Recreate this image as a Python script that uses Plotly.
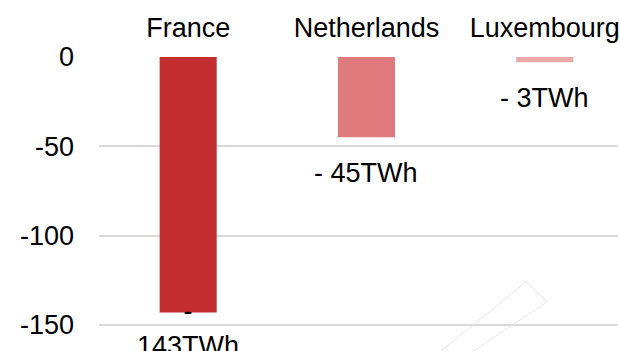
import plotly.graph_objects as go

# Net electricity import balance by neighbouring country
countries = ["France", "Netherlands", "Luxembourg"]
balance_twh = [-143, -45, -3]
bar_colors = ["#C32D30", "#E07B7D", "#ECA7A9"]
label_wrapped = [True, False, False]

y_tickvals = [0, -50, -100, -150]
y_ticktext = ["0", "-50", "-100", "-150"]

FONT = "Liberation Sans, Arial, sans-serif"
FS = 27

labels = []
for v, wrap in zip(balance_twh, label_wrapped):
    txt = f"- {abs(v):g}TWh"
    labels.append(txt.replace(" ", "<br>") if wrap else txt)

fig = go.Figure(
    go.Bar(
        x=countries,
        y=balance_twh,
        marker=dict(color=bar_colors, line=dict(width=0)),
        width=0.32,
        hoverinfo="skip",
    )
)

# value labels sit beneath the end of each bar
for c, v, txt, wrap in zip(countries, balance_twh, labels, label_wrapped):
    fig.add_annotation(
        x=c, y=v, text=txt, showarrow=False,
        xanchor="center", yanchor="middle",
        yshift=-16 if wrap else -36,
        font=dict(family=FONT, size=FS, color="#000000"),
    )

# faint rotated outline in the lower right corner
fig.add_shape(
    type="path", xref="paper", yref="paper",
    path="M 0.6238 -0.05 L 0.8234 0.2345 L 0.8637 0.1667 L 0.6795 -0.05",
    line=dict(color="#E6E6E6", width=1),
    fillcolor="rgba(0,0,0,0)",
)

fig.update_layout(
    width=620, height=351,
    margin=dict(l=99, r=0, t=56, b=0),
    paper_bgcolor="white", plot_bgcolor="white",
    showlegend=False,
    font=dict(family=FONT, size=FS, color="#000000"),
    xaxis=dict(
        side="top", range=[-0.5, 2.4106],
        showgrid=False, showline=False, zeroline=False,
        ticks="", ticklabelstandoff=13,
        tickfont=dict(family=FONT, size=FS, color="#000000"),
    ),
    yaxis=dict(
        range=[-164.6, 0.5],
        tickvals=y_tickvals, ticktext=y_ticktext,
        showgrid=True, gridcolor="#D9D9D9", gridwidth=1.5,
        zeroline=False, showline=False, ticks="",
        ticklabelstandoff=24,
        tickfont=dict(family=FONT, size=FS, color="#000000"),
    ),
)

fig.write_html("out.html")
